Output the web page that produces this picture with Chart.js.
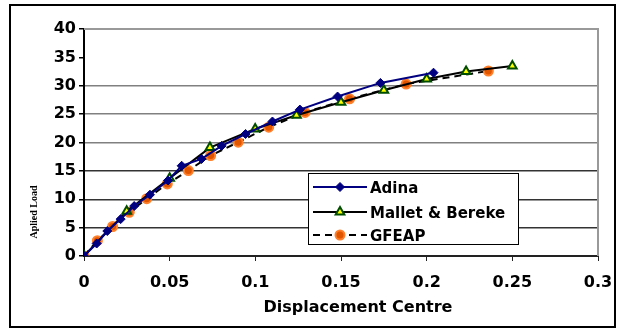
<!DOCTYPE html>
<html>
<head>
<meta charset="utf-8">
<script src="https://cdn.jsdelivr.net/npm/chart.js@4/dist/chart.umd.min.js"></script>
<style>
  html, body { margin: 0; padding: 0; background: #fff; }
  #wrap { width: 619px; height: 331px; }
</style>
</head>
<body>
<div id="wrap"><canvas id="loadChart" width="619" height="331"></canvas></div>
<script>
// values
const adinaX = [0, 0.0074, 0.0136, 0.0214, 0.0293, 0.0385, 0.049, 0.057, 0.0686, 0.0803, 0.0943, 0.110, 0.126, 0.148, 0.173, 0.204];
const adinaY = [0, 2.2, 4.4, 6.5, 8.8, 10.8, 13.3, 15.9, 17.1, 19.4, 21.5, 23.7, 25.8, 28.1, 30.5, 32.3];

const malletX = [0, 0.0249, 0.050, 0.0735, 0.0999, 0.124, 0.150, 0.175, 0.200, 0.223, 0.250];
const malletY = [0, 7.9, 13.7, 19.1, 22.4, 24.8, 27.1, 29.2, 31.2, 32.5, 33.5];

const gfeapX = [0, 0.0078, 0.0167, 0.0264, 0.0366, 0.0486, 0.0609, 0.0739, 0.090, 0.1078, 0.129, 0.155, 0.188, 0.236];
const gfeapY = [0, 2.7, 5.2, 7.7, 10.1, 12.7, 15.05, 17.7, 20.06, 22.7, 25.3, 27.7, 30.3, 32.6];

const xTicks = [0, 0.05, 0.1, 0.15, 0.2, 0.25, 0.3];
const yTicks = [0, 5, 10, 15, 20, 25, 30, 35, 40];

const seriesNames = ['Adina', 'Mallet & Bereke', 'GFEAP'];

function pts(xs, ys) {
  return xs.map((x, i) => ({ x: x, y: ys[i] }));
}

const boldFont = '"DejaVu Sans", sans-serif';

const frame = {
  id: 'frame',
  beforeDraw(chart) {
    const ctx = chart.ctx;
    ctx.save();
    ctx.fillStyle = '#fff';
    ctx.fillRect(0, 0, chart.width, chart.height);
    ctx.restore();
  },
  beforeDatasetsDraw(chart) {
    const ctx = chart.ctx;
    const a = chart.chartArea;
    ctx.save();
    ctx.strokeStyle = '#999';
    ctx.lineWidth = 2;
    ctx.beginPath();
    ctx.moveTo(a.left, a.top);
    ctx.lineTo(a.right, a.top);
    ctx.lineTo(a.right, a.bottom);
    ctx.stroke();
    ctx.restore();
  },
  afterDraw(chart) {
    const ctx = chart.ctx;
    ctx.save();
    // axis titles
    ctx.fillStyle = '#000';
    ctx.font = 'bold 16px ' + boldFont;
    ctx.textAlign = 'center';
    ctx.textBaseline = 'alphabetic';
    ctx.fillText('Displacement Centre', 358, 312);

    ctx.translate(37, 212);
    ctx.rotate(-Math.PI / 2);
    ctx.font = 'bold 10px "Liberation Serif", serif';
    ctx.textBaseline = 'alphabetic';
    ctx.fillText('Aplied Load', 0, 0);
    ctx.restore();

    // legend
    const lx = 308.5, ly = 173.5, lw = 210, lh = 71;
    ctx.save();
    ctx.fillStyle = '#fff';
    ctx.fillRect(lx, ly, lw, lh);
    ctx.beginPath();
    ctx.rect(lx, ly, lw, lh);
    ctx.clip();
    const rows = [187, 212, 235];
    const sets = chart.data.datasets;
    rows.forEach((ry, i) => {
      const ds = sets[i];
      ctx.save();
      ctx.strokeStyle = ds.borderColor;
      ctx.lineWidth = ds.borderWidth;
      ctx.setLineDash(ds.borderDash || []);
      ctx.beginPath();
      ctx.moveTo(313, ry);
      ctx.lineTo(367, ry);
      ctx.stroke();
      ctx.setLineDash([]);
      ctx.fillStyle = ds.pointBackgroundColor;
      ctx.strokeStyle = ds.pointBorderColor;
      ctx.lineWidth = ds.pointBorderWidth;
      Chart.helpers.drawPoint(ctx, { pointStyle: ds.pointStyle, radius: ds.pointRadius, borderWidth: ds.pointBorderWidth }, 340, ry);
      ctx.restore();
      ctx.fillStyle = '#000';
      ctx.font = 'bold 15px ' + boldFont;
      ctx.textAlign = 'left';
      ctx.textBaseline = 'middle';
      ctx.fillText(seriesNames[i], 370, ry + 2);
    });
    ctx.restore();
    ctx.save();
    ctx.strokeStyle = '#000';
    ctx.lineWidth = 1;
    ctx.strokeRect(lx, ly, lw, lh);
    ctx.restore();

    // outer border, clipping the last tick label
    ctx.save();
    ctx.fillStyle = '#fff';
    ctx.fillRect(616, 0, 3, chart.height);
    ctx.strokeStyle = '#000';
    ctx.lineWidth = 2;
    ctx.strokeRect(10, 5, 605, 322);
    ctx.restore();
  }
};

new Chart(document.getElementById('loadChart'), {
  type: 'scatter',
  data: {
    datasets: [
      {
        label: seriesNames[0],
        data: pts(adinaX, adinaY),
        showLine: true,
        borderColor: '#000080',
        borderWidth: 2,
        pointStyle: 'rectRot',
        pointRadius: 4.5,
        pointBackgroundColor: '#000080',
        pointBorderColor: '#000080',
        pointBorderWidth: 1
      },
      {
        label: seriesNames[1],
        data: pts(malletX, malletY),
        showLine: true,
        borderColor: '#000',
        borderWidth: 2,
        pointStyle: 'triangle',
        pointRadius: 5,
        pointBackgroundColor: '#ffff00',
        pointBorderColor: '#004d00',
        pointBorderWidth: 2
      },
      {
        label: seriesNames[2],
        data: pts(gfeapX, gfeapY),
        showLine: true,
        borderColor: '#000',
        borderWidth: 2,
        borderDash: [7, 5],
        pointStyle: 'circle',
        pointRadius: 4.5,
        pointBackgroundColor: '#e05500',
        pointBorderColor: '#ff7f2a',
        pointBorderWidth: 2
      }
    ]
  },
  options: {
    responsive: false,
    animation: false,
    layout: { padding: { top: 29, right: 21, left: 0, bottom: 0 } },
    plugins: {
      legend: { display: false },
      tooltip: { enabled: false }
    },
    scales: {
      x: {
        type: 'linear',
        min: 0,
        max: 0.3,
        afterBuildTicks(scale) { scale.ticks = xTicks.map(v => ({ value: v })); },
        afterFit(scale) { scale.paddingLeft = 0; scale.paddingRight = 0; scale.height = 75; },
        border: { color: '#222', width: 2 },
        grid: { drawOnChartArea: false, drawTicks: true, tickLength: 5, tickColor: '#222', tickWidth: 1 },
        ticks: {
          color: '#000',
          padding: 12,
          maxRotation: 0,
          autoSkip: false,
          font: { family: boldFont, size: 16, weight: 'bold' },
          callback: v => String(+v.toFixed(2))
        }
      },
      y: {
        min: 0,
        max: 40,
        afterBuildTicks(scale) { scale.ticks = yTicks.map(v => ({ value: v })); },
        afterFit(scale) { scale.width = 84; scale.paddingTop = 0; scale.paddingBottom = 0; },
        border: { color: '#000', width: 2 },
        grid: {
          tickLength: 5,
          tickColor: '#000',
          tickBorderDash: [],
          borderDash: [7, 5],
          lineWidth: 1.5,
          color: c => {
            const v = c.tick ? c.tick.value : 0;
            if (v === 0 || v >= 35) return 'rgba(0,0,0,0)';
            return v >= 20 ? '#808080' : '#333';
          }
        },
        ticks: {
          color: '#000',
          padding: 3,
          autoSkip: false,
          font: { family: boldFont, size: 16, weight: 'bold' }
        }
      }
    }
  },
  plugins: [frame]
});
</script>
</body>
</html>
